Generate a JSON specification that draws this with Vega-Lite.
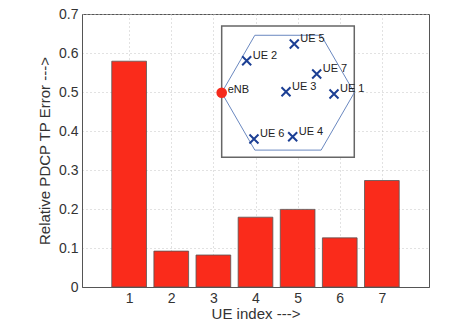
{
  "$schema": "https://vega.github.io/schema/vega-lite/v6.json",
  "width": 347,
  "height": 273,
  "autosize": {"type": "none"},
  "padding": {"left": 82, "top": 14, "right": 46, "bottom": 33},
  "background": "white",
  "config": {
    "font": "Liberation Sans",
    "view": {"stroke": "#555", "strokeWidth": 1},
    "axis": {
      "labelFont": "Liberation Sans",
      "titleFont": "Liberation Sans",
      "labelFontSize": 14,
      "titleFontSize": 15,
      "titleFontWeight": "normal",
      "labelColor": "#333",
      "titleColor": "#333",
      "domainColor": "#555",
      "ticks": false,
      "gridColor": "#c4c4c4",
      "gridDash": [1, 3],
      "gridWidth": 1
    }
  },
  "datasets": {
    "bars": [
      {"ue": 1, "err": 0.579},
      {"ue": 2, "err": 0.092},
      {"ue": 3, "err": 0.082},
      {"ue": 4, "err": 0.179},
      {"ue": 5, "err": 0.199},
      {"ue": 6, "err": 0.126},
      {"ue": 7, "err": 0.273}
    ],
    "box": [{"x0": -1, "x1": 1, "y0": -0.975, "y1": 1.005}],
    "hex": [
      {"i": 0, "hx": -1, "hy": 0},
      {"i": 1, "hx": -0.5, "hy": 0.866},
      {"i": 2, "hx": 0.5, "hy": 0.866},
      {"i": 3, "hx": 1, "hy": 0},
      {"i": 4, "hx": 0.5, "hy": -0.866},
      {"i": 5, "hx": -0.5, "hy": -0.866},
      {"i": 6, "hx": -1, "hy": 0}
    ],
    "enb": [{"px": -1, "py": 0, "name": "eNB"}],
    "ues": [
      {"px": 0.694, "py": -0.02, "name": "UE 1"},
      {"px": -0.623, "py": 0.483, "name": "UE 2"},
      {"px": -0.03, "py": 0.015, "name": "UE 3"},
      {"px": 0.071, "py": -0.664, "name": "UE 4"},
      {"px": 0.095, "py": 0.735, "name": "UE 5"},
      {"px": -0.513, "py": -0.698, "name": "UE 6"},
      {"px": 0.433, "py": 0.282, "name": "UE 7"}
    ]
  },
  "layer": [
    {
      "data": {"name": "bars"},
      "mark": {"type": "bar", "size": 34.7, "color": "#fa2b1b", "stroke": "#555", "strokeWidth": 0.8},
      "encoding": {
        "x": {
          "field": "ue", "type": "quantitative",
          "scale": {"domain": [0, 8], "nice": false, "zero": false},
          "axis": {"values": [1, 2, 3, 4, 5, 6, 7], "title": "UE index --->", "labelPadding": 4, "titlePadding": 1, "grid": true}
        },
        "y": {
          "field": "err", "type": "quantitative",
          "scale": {"domain": [0, 0.7], "nice": false},
          "axis": {"values": [0, 0.1, 0.2, 0.3, 0.4, 0.5, 0.6, 0.7], "format": "~g", "title": "Relative PDCP TP Error --->", "labelPadding": 4, "titlePadding": 6, "grid": true}
        }
      }
    },
    {
      "layer": [
        {
          "data": {"name": "box"},
          "mark": {"type": "rect", "fill": "white", "stroke": "#666", "strokeWidth": 1.5},
          "encoding": {
            "x": {"field": "x0", "type": "quantitative", "scale": {"domain": [-3.107, 2.127], "nice": false, "zero": false}, "axis": null},
            "x2": {"field": "x1"},
            "y": {"field": "y0", "type": "quantitative", "scale": {"domain": [-2.931, 1.187], "nice": false, "zero": false}, "axis": null},
            "y2": {"field": "y1"}
          }
        },
        {
          "data": {"name": "hex"},
          "mark": {"type": "line", "color": "#6a88c0", "strokeWidth": 1},
          "encoding": {
            "x": {"field": "hx", "type": "quantitative"},
            "y": {"field": "hy", "type": "quantitative"},
            "order": {"field": "i", "type": "quantitative"}
          }
        },
        {
          "data": {"name": "ues"},
          "mark": {"type": "point", "shape": "M-1,-1L1,1M-1,1L1,-1", "filled": false, "stroke": "#1c3f94", "strokeWidth": 2, "size": 81, "opacity": 1},
          "encoding": {
            "x": {"field": "px", "type": "quantitative"},
            "y": {"field": "py", "type": "quantitative"}
          }
        },
        {
          "data": {"name": "ues"},
          "mark": {"type": "text", "align": "left", "baseline": "middle", "dx": 6, "dy": -5, "fontSize": 11, "color": "#222"},
          "encoding": {
            "x": {"field": "px", "type": "quantitative"},
            "y": {"field": "py", "type": "quantitative"},
            "text": {"field": "name"}
          }
        },
        {
          "data": {"name": "enb"},
          "mark": {"type": "point", "shape": "circle", "filled": true, "color": "#f52a1c", "size": 113, "opacity": 1},
          "encoding": {
            "x": {"field": "px", "type": "quantitative"},
            "y": {"field": "py", "type": "quantitative"}
          }
        },
        {
          "data": {"name": "enb"},
          "mark": {"type": "text", "align": "left", "baseline": "middle", "dx": 6, "dy": -3, "fontSize": 11, "color": "#222"},
          "encoding": {
            "x": {"field": "px", "type": "quantitative"},
            "y": {"field": "py", "type": "quantitative"},
            "text": {"field": "name"}
          }
        }
      ]
    }
  ],
  "resolve": {"scale": {"x": "independent", "y": "independent"}}
}
